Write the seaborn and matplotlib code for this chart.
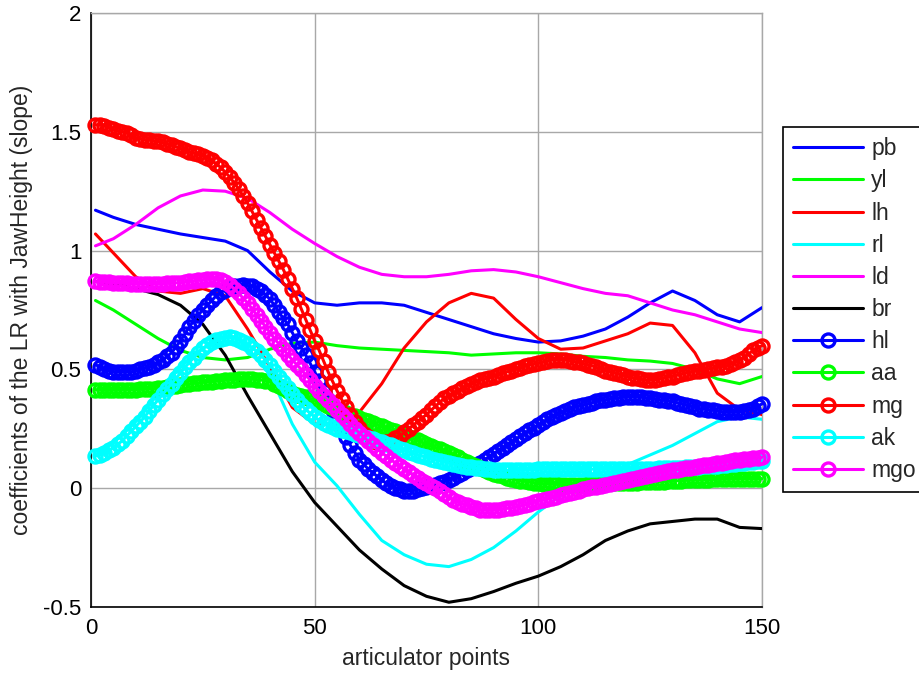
import numpy as np
import pandas as pd
import matplotlib
matplotlib.use("Agg")
import matplotlib.pyplot as plt
import seaborn as sns

# ---------------- data ----------------
x_line = [1, 5, 10, 15, 20, 25, 30, 35, 40, 45, 50, 55, 60, 65, 70, 75,
          80, 85, 90, 95, 100, 105, 110, 115, 120, 125, 130, 135, 140, 145, 150]

pb = [1.17, 1.14, 1.11, 1.09, 1.07, 1.055, 1.04, 1.0, 0.91, 0.83, 0.78, 0.77, 0.78, 0.78, 0.77, 0.74,
      0.71, 0.68, 0.65, 0.63, 0.615, 0.62, 0.64, 0.67, 0.72, 0.78, 0.83, 0.79, 0.73, 0.70, 0.76]
yl = [0.79, 0.75, 0.69, 0.63, 0.58, 0.55, 0.54, 0.55, 0.585, 0.61, 0.615, 0.60, 0.59, 0.585, 0.58, 0.575,
      0.57, 0.56, 0.565, 0.57, 0.57, 0.565, 0.555, 0.55, 0.54, 0.535, 0.525, 0.50, 0.46, 0.44, 0.47]
lh = [1.07, 0.99, 0.89, 0.83, 0.82, 0.84, 0.81, 0.67, 0.51, 0.34, 0.27, 0.27, 0.32, 0.44, 0.59, 0.70,
      0.78, 0.82, 0.80, 0.71, 0.63, 0.585, 0.59, 0.62, 0.65, 0.695, 0.685, 0.57, 0.40, 0.33, 0.31]
rl = [0.14, 0.19, 0.28, 0.40, 0.51, 0.59, 0.62, 0.59, 0.48, 0.27, 0.11, 0.01, -0.11, -0.22, -0.28, -0.32,
      -0.33, -0.30, -0.25, -0.18, -0.10, -0.03, 0.02, 0.05, 0.10, 0.14, 0.18, 0.23, 0.28, 0.30, 0.29]
ld = [1.02, 1.05, 1.11, 1.18, 1.23, 1.255, 1.25, 1.22, 1.16, 1.09, 1.03, 0.975, 0.93, 0.90, 0.89, 0.89,
      0.90, 0.915, 0.92, 0.91, 0.89, 0.865, 0.84, 0.82, 0.81, 0.78, 0.75, 0.73, 0.70, 0.67, 0.655]
br = [0.87, 0.86, 0.84, 0.815, 0.77, 0.69, 0.56, 0.39, 0.23, 0.07, -0.06, -0.16, -0.26, -0.34, -0.41, -0.455,
      -0.48, -0.465, -0.435, -0.40, -0.37, -0.33, -0.28, -0.22, -0.18, -0.15, -0.14, -0.13, -0.13, -0.165, -0.17]

x_mark = list(range(1, 151))

hl = [0.52, 0.51, 0.50, 0.495, 0.49, 0.49, 0.49, 0.49, 0.49, 0.495,
      0.50, 0.505, 0.51, 0.52, 0.53, 0.54, 0.555, 0.57, 0.595, 0.62,
      0.65, 0.68, 0.705, 0.73, 0.75, 0.77, 0.79, 0.81, 0.825, 0.835,
      0.845, 0.85, 0.853, 0.855, 0.853, 0.85, 0.84, 0.83, 0.815, 0.795,
      0.77, 0.74, 0.715, 0.69, 0.655, 0.62, 0.59, 0.56, 0.525, 0.49,
      0.45, 0.41, 0.37, 0.33, 0.29, 0.25, 0.215, 0.18, 0.15, 0.12,
      0.10, 0.08, 0.065, 0.05, 0.035, 0.02, 0.01, 0.0, -0.005, -0.01,
      -0.01, -0.01, -0.005, 0.0, 0.005, 0.01, 0.015, 0.02, 0.028, 0.035,
      0.045, 0.055, 0.065, 0.075, 0.085, 0.095, 0.107, 0.12, 0.132, 0.145,
      0.157, 0.17, 0.182, 0.195, 0.207, 0.22, 0.232, 0.245, 0.255, 0.265,
      0.278, 0.29, 0.30, 0.31, 0.318, 0.325, 0.333, 0.34, 0.345, 0.35,
      0.355, 0.36, 0.365, 0.37, 0.372, 0.375, 0.378, 0.38, 0.383, 0.385,
      0.385, 0.385, 0.383, 0.38, 0.378, 0.375, 0.372, 0.37, 0.368, 0.365,
      0.36, 0.355, 0.35, 0.345, 0.34, 0.335, 0.333, 0.33, 0.328, 0.325,
      0.322, 0.32, 0.32, 0.32, 0.322, 0.325, 0.33, 0.335, 0.345, 0.355]

aa = [0.415, 0.413, 0.412, 0.412, 0.413, 0.413, 0.414, 0.414, 0.415, 0.415,
      0.416, 0.417, 0.418, 0.419, 0.42, 0.423, 0.426, 0.429, 0.432, 0.435,
      0.437, 0.439, 0.441, 0.443, 0.445, 0.447, 0.449, 0.451, 0.453, 0.455,
      0.456, 0.457, 0.458, 0.459, 0.46, 0.459, 0.457, 0.455, 0.453, 0.45,
      0.44, 0.43, 0.42, 0.41, 0.40, 0.394, 0.388, 0.382, 0.376, 0.37,
      0.362, 0.354, 0.346, 0.338, 0.33, 0.323, 0.316, 0.309, 0.302, 0.295,
      0.288, 0.281, 0.274, 0.267, 0.26, 0.253, 0.246, 0.239, 0.232, 0.225,
      0.217, 0.209, 0.201, 0.193, 0.185, 0.178, 0.171, 0.164, 0.157, 0.15,
      0.14, 0.13, 0.12, 0.11, 0.10, 0.092, 0.084, 0.076, 0.068, 0.06,
      0.055, 0.05, 0.045, 0.04, 0.035, 0.032, 0.029, 0.026, 0.023, 0.02,
      0.019, 0.018, 0.017, 0.016, 0.015, 0.015, 0.015, 0.015, 0.015, 0.015,
      0.016, 0.017, 0.018, 0.019, 0.02, 0.02, 0.021, 0.021, 0.022, 0.022,
      0.023, 0.023, 0.024, 0.024, 0.025, 0.026, 0.027, 0.028, 0.029, 0.03,
      0.031, 0.032, 0.033, 0.034, 0.035, 0.035, 0.036, 0.036, 0.037, 0.037,
      0.038, 0.038, 0.039, 0.039, 0.04, 0.04, 0.04, 0.04, 0.04, 0.04]

mg = [1.53, 1.528, 1.525, 1.518, 1.51, 1.505, 1.50, 1.495, 1.485, 1.475,
      1.47, 1.467, 1.465, 1.462, 1.46, 1.455, 1.45, 1.443, 1.437, 1.43,
      1.422, 1.415, 1.41, 1.405, 1.40, 1.39, 1.38, 1.365, 1.35, 1.33,
      1.31, 1.285, 1.26, 1.23, 1.20, 1.165, 1.13, 1.095, 1.06, 1.025,
      0.99, 0.955, 0.92, 0.88, 0.84, 0.80, 0.755, 0.71, 0.665, 0.62,
      0.58, 0.535, 0.49, 0.45, 0.41, 0.375, 0.34, 0.31, 0.28, 0.255,
      0.23, 0.215, 0.20, 0.195, 0.19, 0.193, 0.20, 0.21, 0.22, 0.235,
      0.25, 0.265, 0.28, 0.295, 0.31, 0.328, 0.345, 0.362, 0.38, 0.39,
      0.40, 0.41, 0.42, 0.43, 0.44, 0.448, 0.455, 0.46, 0.465, 0.47,
      0.477, 0.483, 0.49, 0.495, 0.50, 0.507, 0.513, 0.52, 0.523, 0.525,
      0.53, 0.535, 0.54, 0.54, 0.54, 0.54, 0.537, 0.533, 0.53, 0.525,
      0.52, 0.515, 0.508, 0.502, 0.495, 0.49, 0.485, 0.48, 0.475, 0.47,
      0.465, 0.462, 0.458, 0.455, 0.455, 0.457, 0.46, 0.463, 0.467, 0.47,
      0.475, 0.48, 0.485, 0.488, 0.492, 0.495, 0.498, 0.502, 0.505, 0.508,
      0.512, 0.515, 0.522, 0.53, 0.54, 0.55, 0.565, 0.58, 0.59, 0.60]

ak = [0.135, 0.14, 0.15, 0.16, 0.17, 0.185, 0.20, 0.22, 0.24, 0.26,
      0.28, 0.30, 0.325, 0.35, 0.372, 0.395, 0.418, 0.44, 0.463, 0.485,
      0.508, 0.53, 0.55, 0.57, 0.588, 0.603, 0.615, 0.625, 0.63, 0.634,
      0.635, 0.632, 0.625, 0.615, 0.605, 0.592, 0.577, 0.56, 0.54, 0.518,
      0.495, 0.47, 0.445, 0.42, 0.395, 0.372, 0.35, 0.332, 0.315, 0.30,
      0.285, 0.275, 0.265, 0.257, 0.25, 0.245, 0.24, 0.235, 0.228, 0.222,
      0.215, 0.21, 0.205, 0.20, 0.193, 0.187, 0.18, 0.173, 0.167, 0.16,
      0.153, 0.147, 0.14, 0.135, 0.13, 0.125, 0.12, 0.115, 0.11, 0.105,
      0.101, 0.097, 0.094, 0.09, 0.088, 0.085, 0.083, 0.08, 0.079, 0.078,
      0.077, 0.076, 0.075, 0.075, 0.075, 0.075, 0.076, 0.077, 0.078, 0.08,
      0.08, 0.08, 0.08, 0.08, 0.08, 0.08, 0.08, 0.08, 0.08, 0.08,
      0.08, 0.08, 0.08, 0.08, 0.08, 0.08, 0.08, 0.08, 0.08, 0.08,
      0.08, 0.08, 0.081, 0.081, 0.082, 0.082, 0.083, 0.083, 0.084, 0.085,
      0.086, 0.087, 0.088, 0.089, 0.09, 0.091, 0.092, 0.093, 0.094, 0.095,
      0.097, 0.099, 0.101, 0.103, 0.105, 0.107, 0.109, 0.111, 0.113, 0.115]

mgo = [0.87, 0.868, 0.867, 0.866, 0.865, 0.864, 0.863, 0.862, 0.861, 0.86,
       0.86, 0.86, 0.86, 0.86, 0.86, 0.861, 0.862, 0.863, 0.864, 0.865,
       0.868, 0.87, 0.872, 0.875, 0.877, 0.879, 0.88, 0.879, 0.875, 0.867,
       0.855, 0.84, 0.82, 0.80, 0.78, 0.755, 0.73, 0.705, 0.68, 0.655,
       0.63, 0.607, 0.585, 0.562, 0.54, 0.52, 0.50, 0.477, 0.455, 0.432,
       0.41, 0.39, 0.37, 0.35, 0.33, 0.31, 0.29, 0.27, 0.25, 0.232,
       0.215, 0.197, 0.18, 0.165, 0.15, 0.135, 0.12, 0.107, 0.095, 0.082,
       0.07, 0.057, 0.045, 0.032, 0.02, 0.01, 0.0, -0.012, -0.025, -0.037,
       -0.05, -0.057, -0.065, -0.072, -0.08, -0.085, -0.09, -0.092, -0.093, -0.092,
       -0.09, -0.088, -0.085, -0.083, -0.08, -0.075, -0.07, -0.065, -0.06, -0.055,
       -0.05, -0.045, -0.04, -0.035, -0.03, -0.025, -0.02, -0.015, -0.01, -0.005,
       -0.001, 0.003, 0.007, 0.011, 0.015, 0.019, 0.023, 0.027, 0.031, 0.035,
       0.039, 0.043, 0.047, 0.051, 0.055, 0.059, 0.063, 0.067, 0.071, 0.075,
       0.078, 0.081, 0.084, 0.087, 0.09, 0.093, 0.096, 0.099, 0.102, 0.105,
       0.108, 0.111, 0.114, 0.117, 0.12, 0.122, 0.124, 0.126, 0.128, 0.13]

line_names = ["pb", "yl", "lh", "rl", "ld", "br"]
line_series = [pb, yl, lh, rl, ld, br]
mark_names = ["hl", "aa", "mg", "ak", "mgo"]
mark_series = [hl, aa, mg, ak, mgo]

x_ticks = [0, 50, 100, 150]
y_ticks = [-0.5, 0, 0.5, 1, 1.5, 2]
y_tick_labels = ["-0.5", "0", "0.5", "1", "1.5", "2"]

# ---------------- styling ----------------
sns.set_style("white")
plt.rcParams["font.family"] = ["Liberation Sans", "DejaVu Sans"]

line_colors = ["#0000ff", "#00ff00", "#ff0000", "#00ffff", "#ff00ff", "#000000"]
mark_colors = ["#0000ff", "#00ff00", "#ff0000", "#00ffff", "#ff00ff"]
grid_gray = "#a8a8a8"
FS_TICK = 16
FS = 16.5

fig = plt.figure(figsize=(9.2, 6.73), dpi=100)
ax = fig.add_axes([91 / 920, 66 / 673, 671 / 920, 594 / 673])

for name, vals, col in zip(line_names, line_series, line_colors):
    df = pd.DataFrame({"x": x_line, "y": vals})
    sns.lineplot(data=df, x="x", y="y", ax=ax, color=col, lw=2.2,
                 label=name, errorbar=None, sort=False, zorder=3)

for name, vals, col in zip(mark_names, mark_series, mark_colors):
    df = pd.DataFrame({"x": x_mark, "y": vals})
    sns.lineplot(data=df, x="x", y="y", ax=ax, color=col, lw=2.2,
                 marker="o", ms=9.4, mfc="none", mec=col, mew=2.4,
                 label=name, errorbar=None, sort=False, zorder=4, clip_on=False)

ax.set_xlim(0, 150)
ax.set_ylim(-0.5, 2)
ax.set_xticks(x_ticks)
ax.set_xticklabels([str(t) for t in x_ticks])
ax.set_yticks(y_ticks)
ax.set_yticklabels(y_tick_labels)
ax.tick_params(axis="both", direction="in", length=5, width=1, color="black",
               labelsize=FS_TICK, labelcolor="black")
ax.tick_params(axis="x", pad=8)
ax.tick_params(axis="y", pad=7)

ax.grid(True, color=grid_gray, lw=1.0, ls="-")
ax.set_axisbelow(True)
for side in ["left", "bottom"]:
    ax.spines[side].set_color("black")
    ax.spines[side].set_linewidth(1.2)
for side in ["top", "right"]:
    ax.spines[side].set_color(grid_gray)
    ax.spines[side].set_linewidth(1.0)

ax.set_xlabel("articulator points", fontsize=FS, labelpad=6)
ax.set_ylabel("coefficients of the LR with JawHeight (slope)", fontsize=FS, labelpad=7)

handles, labels = ax.get_legend_handles_labels()
leg = ax.legend(handles, labels, loc="upper left",
                bbox_to_anchor=(783 / 920, 1 - 127 / 673), bbox_transform=fig.transFigure,
                frameon=True, fancybox=False, framealpha=1, edgecolor="black",
                fontsize=FS, handlelength=3.05, handletextpad=0.35, borderpad=0.45,
                labelspacing=0.4, borderaxespad=0, numpoints=1)
leg.get_frame().set_linewidth(1.2)

fig.savefig("out.png", dpi=100)
